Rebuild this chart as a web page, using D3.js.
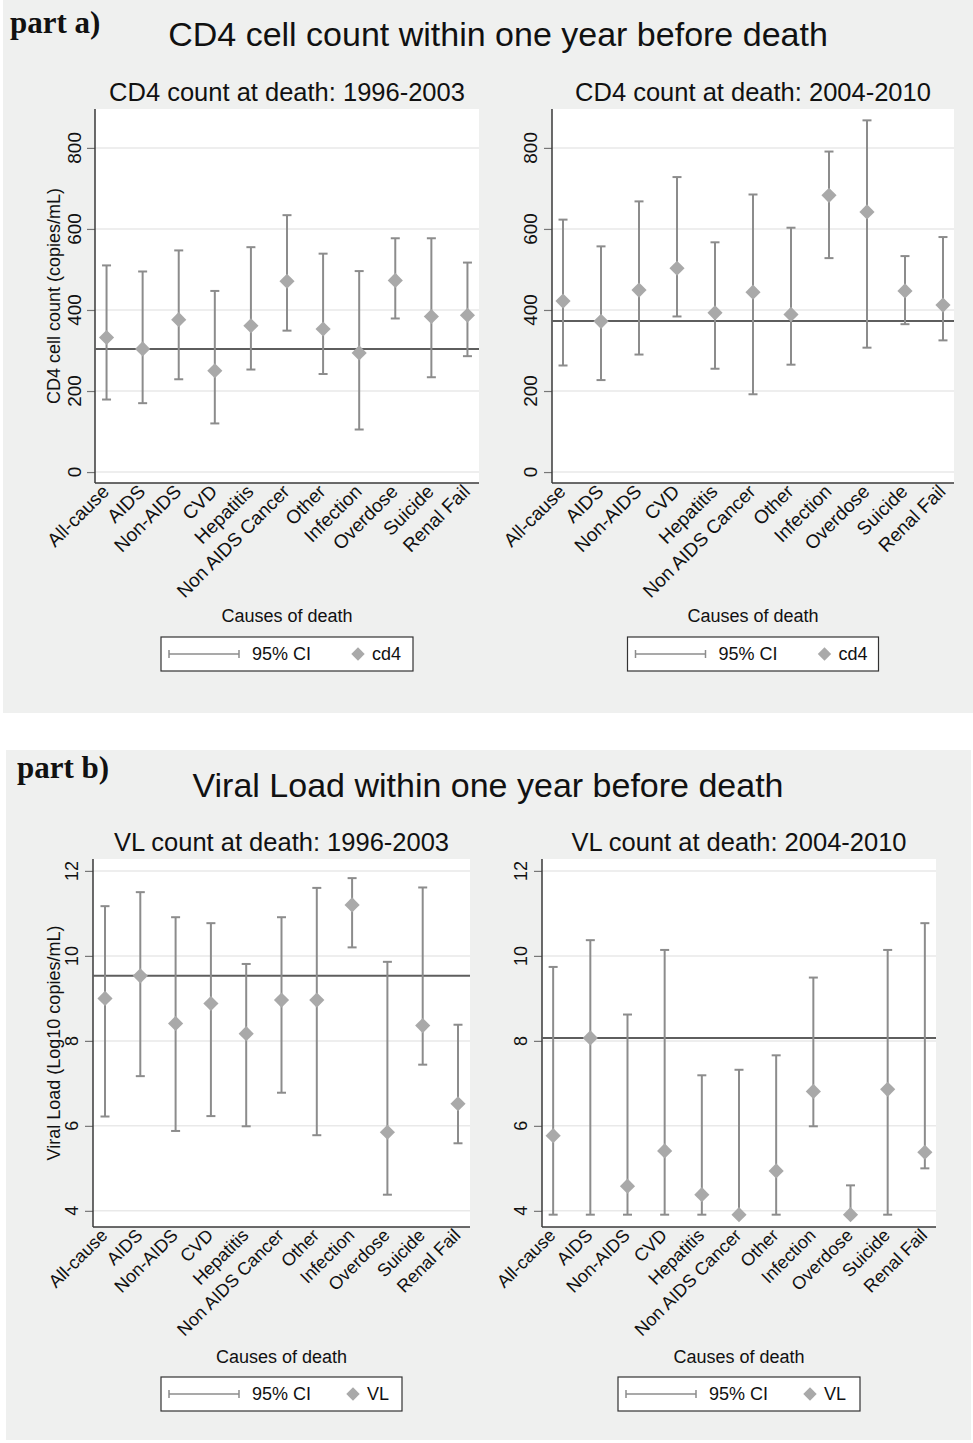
<!DOCTYPE html>
<html>
<head>
<meta charset="utf-8">
<script src="https://cdn.jsdelivr.net/npm/d3@7"></script>
<style>
  html, body { margin: 0; padding: 0; background: #ffffff; }
  svg { display: block; }
  text { font-family: "Liberation Sans", Arial, sans-serif; fill: #111; }
</style>
</head>
<body>
<svg id="chart" width="973" height="1443"></svg>
<script>
// ---------------- DATA ----------------
const categories = ["All-cause", "AIDS", "Non-AIDS", "CVD", "Hepatitis", "Non AIDS Cancer",
                    "Other", "Infection", "Overdose", "Suicide", "Renal Fail"];

// CD4 count at death: 1996-2003
const cd4Early    = [332, 304, 376, 250, 361, 471, 353, 294, 473, 384, 387];
const cd4EarlyLo  = [179, 170, 229, 120, 253, 349, 242, 105, 379, 234, 286];
const cd4EarlyHi  = [510, 495, 547, 447, 555, 634, 539, 496, 577, 577, 517];
const cd4EarlyRef = 304;

// CD4 count at death: 2004-2010
const cd4Late    = [422, 372, 449, 503, 393, 444, 389, 683, 642, 447, 412];
const cd4LateLo  = [263, 227, 290, 384, 255, 192, 265, 528, 307, 365, 325];
const cd4LateHi  = [623, 557, 668, 728, 567, 685, 603, 791, 868, 533, 580];
const cd4LateRef = 373;

// VL count at death: 1996-2003
const vlEarly    = [9.00, 9.53, 8.41, 8.88, 8.17, 8.96, 8.96, 11.20, 5.85, 8.36, 6.52];
const vlEarlyLo  = [6.22, 7.17, 5.88, 6.23, 5.99, 6.78, 5.78, 10.20, 4.38, 7.44, 5.59];
const vlEarlyHi  = [11.17, 11.50, 10.91, 10.77, 9.81, 10.91, 11.60, 11.83, 9.86, 11.61, 8.38];
const vlEarlyRef = 9.53;

// VL count at death: 2004-2010
const vlLate    = [5.77, 8.07, 4.58, 5.41, 4.38, 3.91, 4.94, 6.81, 3.91, 6.86, 5.38];
const vlLateLo  = [3.91, 3.91, 3.91, 3.91, 3.91, 3.91, 3.91, 5.99, 3.91, 3.91, 5.00];
const vlLateHi  = [9.74, 10.37, 8.62, 10.14, 7.19, 7.32, 7.66, 9.49, 4.60, 10.14, 10.77];
const vlLateRef = 8.07;

const cd4Ticks = [0, 200, 400, 600, 800];
const vlTicks  = [4, 6, 8, 10, 12];

const cd4Domain = [-27, 896];
const vlDomain  = [3.62, 12.28];

// ---------------- STYLE ----------------
const BG = "#eff0ef";
const BAR = "#8c8c8c";
const MARK = "#a9a9a9";
const REF = "#5e5e5e";
const AXIS = "#3a3a3a";
const GRID = "#e9e9e9";

const svg = d3.select("#chart");

// panel backgrounds
svg.append("rect").attr("x", 3).attr("y", 0).attr("width", 970).attr("height", 713).attr("fill", BG);
svg.append("rect").attr("x", 6).attr("y", 750).attr("width", 965).attr("height", 690).attr("fill", BG);

// part labels and main titles
svg.append("text").attr("x", 10).attr("y", 33)
  .style("font-family", "'Liberation Serif', 'Times New Roman', serif")
  .style("font-weight", "bold").style("font-size", "31px").text("part a)");
svg.append("text").attr("x", 498).attr("y", 46).attr("text-anchor", "middle")
  .style("font-size", "34px").text("CD4 cell count within one year before death");

svg.append("text").attr("x", 17).attr("y", 778)
  .style("font-family", "'Liberation Serif', 'Times New Roman', serif")
  .style("font-weight", "bold").style("font-size", "31px").text("part b)");
svg.append("text").attr("x", 488).attr("y", 797).attr("text-anchor", "middle")
  .style("font-size", "34px").text("Viral Load within one year before death");

function drawPanel(p) {
  const g = svg.append("g");
  const x = d3.scalePoint().domain(categories).range([p.left, p.right]).padding(p.pad);
  const y = d3.scaleLinear().domain(p.domain).range([p.bottom, p.top]);

  // plot region
  g.append("rect").attr("x", p.left).attr("y", p.top)
    .attr("width", p.right - p.left).attr("height", p.bottom - p.top).attr("fill", "#fff");

  // gridlines
  g.selectAll(".grid").data(p.ticks).enter().append("line")
    .attr("x1", p.left).attr("x2", p.right)
    .attr("y1", d => y(d)).attr("y2", d => y(d))
    .attr("stroke", GRID).attr("stroke-width", 1.5);

  // y axis
  const yAxis = d3.axisLeft(y).tickValues(p.ticks).tickSize(8).tickFormat("");
  const ya = g.append("g").attr("transform", `translate(${p.left},0)`).call(yAxis);
  ya.select(".domain").remove();
  ya.selectAll(".tick line").attr("stroke", "#777").attr("stroke-width", 1.2);
  g.append("line").attr("x1", p.left).attr("x2", p.left).attr("y1", p.top).attr("y2", p.bottom)
    .attr("stroke", AXIS).attr("stroke-width", 1.5);
  // y tick labels (rotated)
  g.selectAll(".ylab").data(p.ticks).enter().append("text")
    .attr("transform", d => `translate(${p.left - p.tickGap},${y(d)}) rotate(-90)`)
    .attr("text-anchor", "middle")
    .style("font-size", p.tickFont + "px")
    .text(d => d);

  // x axis line
  g.append("line").attr("x1", p.left).attr("x2", p.right).attr("y1", p.bottom).attr("y2", p.bottom)
    .attr("stroke", AXIS).attr("stroke-width", 1.5);
  // category labels
  g.selectAll(".xlab").data(categories).enter().append("text")
    .attr("transform", d => `translate(${x(d) - 1},${p.bottom + 5}) rotate(-45)`)
    .attr("text-anchor", "end")
    .attr("dy", "0.35em")
    .style("font-size", p.catFont + "px")
    .text(d => d);

  // reference line
  g.append("line").attr("x1", p.left).attr("x2", p.right)
    .attr("y1", y(p.ref)).attr("y2", y(p.ref))
    .attr("stroke", REF).attr("stroke-width", 2);

  const idx = d3.range(categories.length);
  // error bars
  g.selectAll(".bar").data(idx).enter().append("line")
    .attr("x1", i => x(categories[i])).attr("x2", i => x(categories[i]))
    .attr("y1", i => y(p.lo[i])).attr("y2", i => y(p.hi[i]))
    .attr("stroke", BAR).attr("stroke-width", 2);
  ["lo", "hi"].forEach(k => {
    g.selectAll(".cap" + k).data(idx).enter().append("line")
      .attr("x1", i => x(categories[i]) - 4.5).attr("x2", i => x(categories[i]) + 4.5)
      .attr("y1", i => y(p[k][i])).attr("y2", i => y(p[k][i]))
      .attr("stroke", BAR).attr("stroke-width", 2);
  });
  // diamonds
  const sym = d3.symbol().type(d3.symbolSquare).size(115);
  g.selectAll(".pt").data(idx).enter().append("path")
    .attr("d", sym)
    .attr("transform", i => `translate(${x(categories[i])},${y(p.val[i])}) rotate(45)`)
    .attr("fill", MARK);

  // subtitle
  const cx = (p.left + p.right) / 2;
  g.append("text").attr("x", cx).attr("y", p.top - 8).attr("text-anchor", "middle")
    .style("font-size", "25.5px").text(p.title);

  // y axis title
  if (p.ytitle) {
    g.append("text").attr("transform", `translate(${p.ytitleX},${(p.top + p.bottom) / 2}) rotate(-90)`)
      .attr("text-anchor", "middle").attr("dy", "0.35em")
      .style("font-size", "18px").text(p.ytitle);
  }

  // x axis title
  g.append("text").attr("x", cx).attr("y", p.xtitleY).attr("text-anchor", "middle")
    .attr("dy", "0.35em").style("font-size", "18px").text("Causes of death");

  // legend
  const lw = p.legW, lh = 34;
  const lx = cx - lw / 2, ly = p.legY;
  const lg = g.append("g").attr("transform", `translate(${lx},${ly})`);
  lg.append("rect").attr("width", lw).attr("height", lh).attr("fill", "#fff")
    .attr("stroke", "#333").attr("stroke-width", 1.2);
  const my = lh / 2;
  lg.append("line").attr("x1", 8).attr("x2", 78).attr("y1", my).attr("y2", my)
    .attr("stroke", BAR).attr("stroke-width", 1.5);
  [8, 78].forEach(xx => lg.append("line").attr("x1", xx).attr("x2", xx)
    .attr("y1", my - 4).attr("y2", my + 4).attr("stroke", BAR).attr("stroke-width", 1.5));
  lg.append("text").attr("x", 91).attr("y", my).attr("dy", "0.35em")
    .style("font-size", "18px").text("95% CI");
  lg.append("path").attr("d", d3.symbol().type(d3.symbolSquare).size(90))
    .attr("transform", `translate(${p.legDiamond},${my}) rotate(45)`).attr("fill", MARK);
  lg.append("text").attr("x", p.legDiamond + 14).attr("y", my).attr("dy", "0.35em")
    .style("font-size", "18px").text(p.series);
}

drawPanel({ left: 95, right: 479, top: 109, bottom: 483, pad: 0.32, domain: cd4Domain,
  ticks: cd4Ticks, val: cd4Early, lo: cd4EarlyLo, hi: cd4EarlyHi, ref: cd4EarlyRef,
  title: "CD4 count at death: 1996-2003", ytitle: "CD4 cell count (copies/mL)", ytitleX: 54,
  tickGap: 14, tickFont: 19, catFont: 19, xtitleY: 616, legY: 637, legW: 252, legDiamond: 197, series: "cd4" });

drawPanel({ left: 552, right: 954, top: 109, bottom: 483, pad: 0.29, domain: cd4Domain,
  ticks: cd4Ticks, val: cd4Late, lo: cd4LateLo, hi: cd4LateHi, ref: cd4LateRef,
  title: "CD4 count at death: 2004-2010", ytitle: null,
  tickGap: 15, tickFont: 19, catFont: 19, xtitleY: 616, legY: 637, legW: 251, legDiamond: 197, series: "cd4" });

drawPanel({ left: 93, right: 470, top: 859, bottom: 1227, pad: 0.34, domain: vlDomain,
  ticks: vlTicks, val: vlEarly, lo: vlEarlyLo, hi: vlEarlyHi, ref: vlEarlyRef,
  title: "VL count at death: 1996-2003", ytitle: "Viral Load (Log10 copies/mL)", ytitleX: 54,
  tickGap: 15, tickFont: 18, catFont: 18, xtitleY: 1357, legY: 1377, legW: 241, legDiamond: 192, series: "VL" });

drawPanel({ left: 542, right: 936, top: 859, bottom: 1227, pad: 0.3, domain: vlDomain,
  ticks: vlTicks, val: vlLate, lo: vlLateLo, hi: vlLateHi, ref: vlLateRef,
  title: "VL count at death: 2004-2010", ytitle: null,
  tickGap: 15, tickFont: 18, catFont: 18, xtitleY: 1357, legY: 1377, legW: 242, legDiamond: 192, series: "VL" });
</script>
</body>
</html>
